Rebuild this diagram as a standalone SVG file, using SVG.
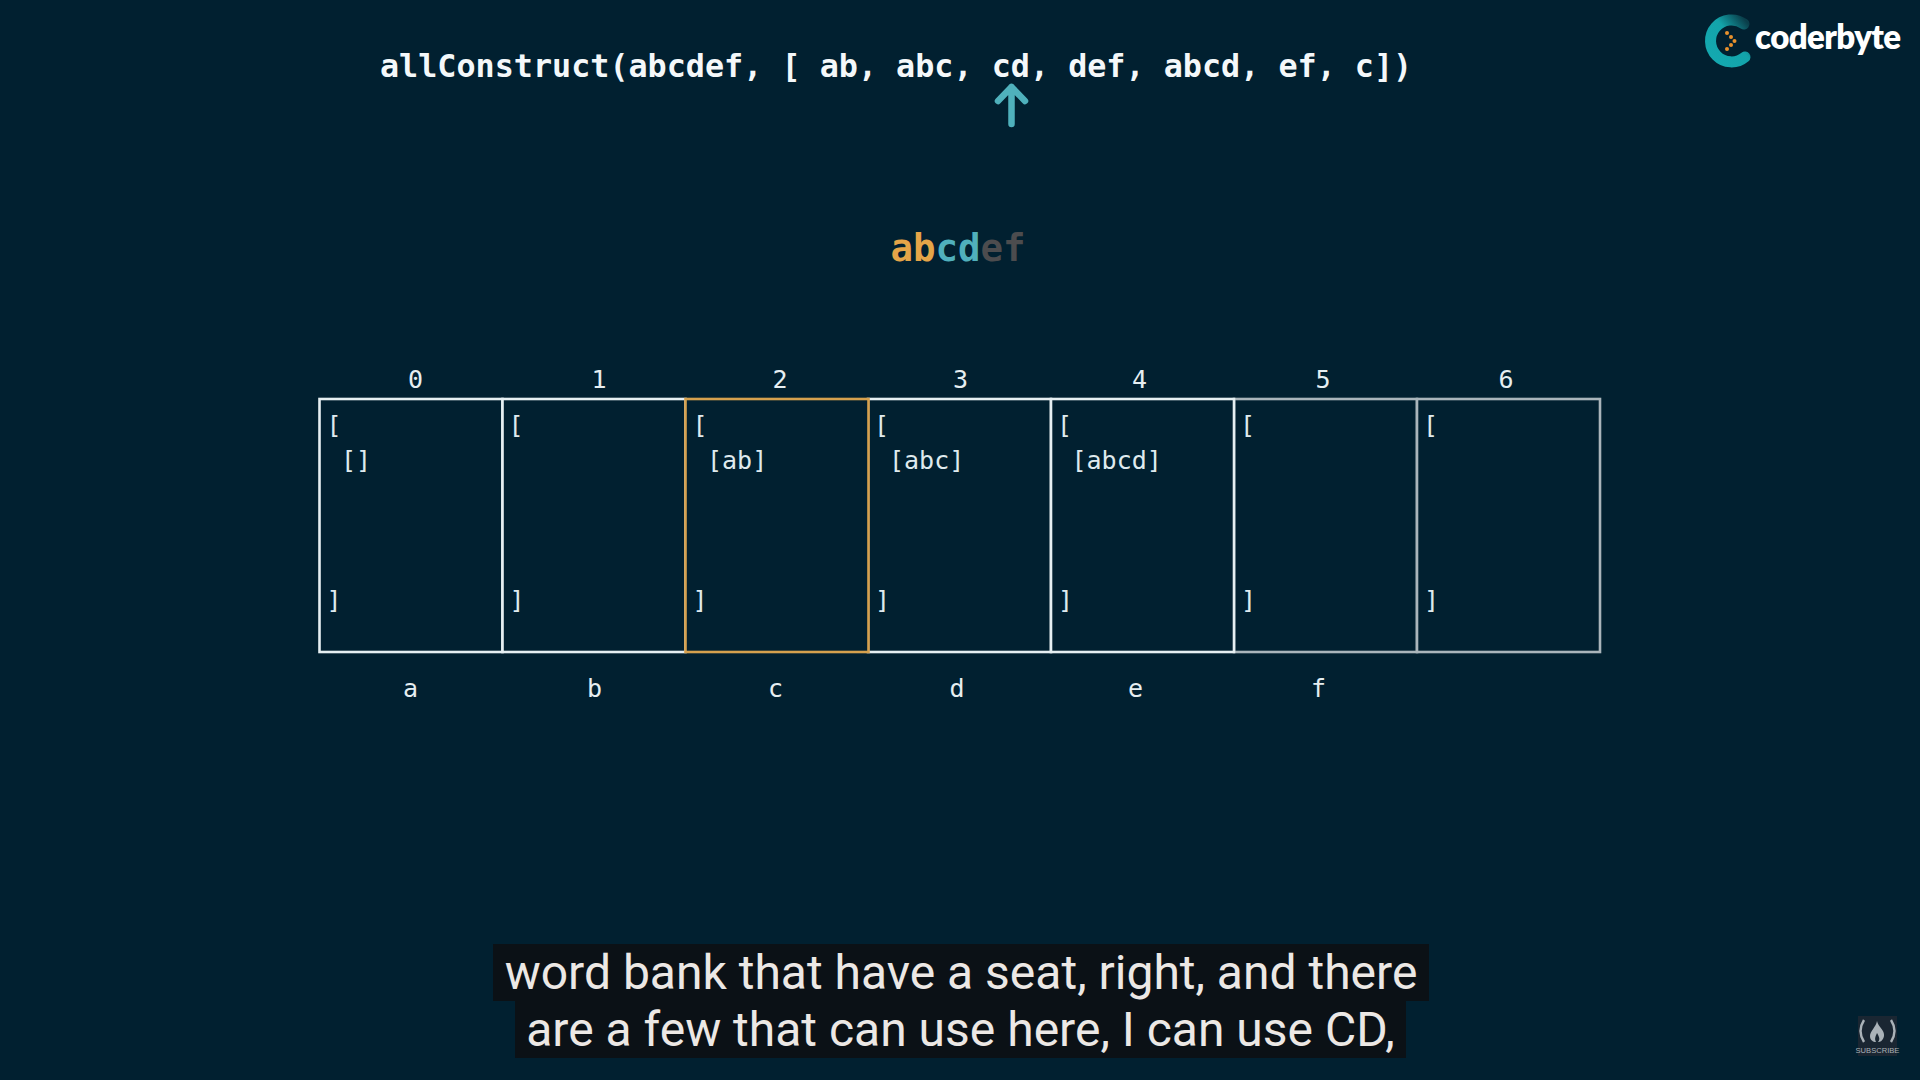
<svg xmlns="http://www.w3.org/2000/svg" width="1920" height="1080" viewBox="0 0 1920 1080">
<style>
.m{font-family:"DejaVu Sans Mono","Liberation Mono",monospace}
.title{font-size:31.75px;font-weight:700;fill:#f4f8fa}
.big{font-size:37.4px;font-weight:700}
.t{font-size:25px;fill:#dfeaee}
.lab{font-size:25px;fill:#e6eef1;text-anchor:middle}
.cell{fill:#012030;stroke-width:2.6}
.w{stroke:#e6eff2}.g{stroke:#aab5bb}.o{stroke:#d6a14e}
.cap{font-family:Roboto,"Liberation Sans",sans-serif;font-size:48px;fill:#ece8e5;text-anchor:middle}
</style>
<defs>
<linearGradient id="ring" x1="0" y1="1" x2="1" y2="0">
<stop offset="0" stop-color="#14a9b0"/><stop offset="0.6" stop-color="#13a3aa"/><stop offset="1" stop-color="#0a3e4a"/>
</linearGradient>
</defs>
<rect width="1920" height="1080" fill="#012030"/>
<text id="title" class="m title" x="380" y="77" xml:space="preserve">allConstruct(abcdef, [ ab, abc, cd, def, abcd, ef, c])</text>
<g id="connectors">
<path d="M1011.5 124V87M998 101L1011.5 87L1025 101" fill="none" stroke="#4fb1bc" stroke-width="6.5" stroke-linecap="round" stroke-linejoin="round"/>
</g>
<text id="target" class="m big" x="890.5" y="260.5"><tspan fill="#e5a548">ab</tspan><tspan fill="#50b0bc">cd</tspan><tspan fill="#4c4c4e">ef</tspan></text>
<g id="cell-5"><rect class="cell g" x="1234" y="399" width="183" height="253"/><text class="m lab" x="1323" y="388">5</text><text class="m t" x="1240" y="433.5">[</text><text class="m t" x="1241" y="609">]</text><text class="m lab" x="1318.5" y="697">f</text></g>
<g id="cell-6"><rect class="cell g" x="1417" y="399" width="183" height="253"/><text class="m lab" x="1506" y="388">6</text><text class="m t" x="1423" y="433.5">[</text><text class="m t" x="1424" y="609">]</text></g>
<g id="cell-0"><rect class="cell w" x="319.5" y="399" width="183" height="253"/><text class="m lab" x="415.5" y="388">0</text><text class="m t" x="326.5" y="433.5">[</text><text class="m t" x="341" y="469">[]</text><text class="m t" x="326.5" y="609">]</text><text class="m lab" x="410.5" y="697">a</text></g>
<g id="cell-1"><rect class="cell w" x="502.5" y="399" width="183" height="253"/><text class="m lab" x="599" y="388">1</text><text class="m t" x="508.5" y="433.5">[</text><text class="m t" x="509.5" y="609">]</text><text class="m lab" x="594.5" y="697">b</text></g>
<g id="cell-3"><rect class="cell w" x="868" y="399" width="183" height="253"/><text class="m lab" x="960.5" y="388">3</text><text class="m t" x="874" y="433.5">[</text><text class="m t" x="889" y="469">[abc]</text><text class="m t" x="875" y="609">]</text><text class="m lab" x="957" y="697">d</text></g>
<g id="cell-4"><rect class="cell w" x="1051" y="399" width="183" height="253"/><text class="m lab" x="1139.5" y="388">4</text><text class="m t" x="1057" y="433.5">[</text><text class="m t" x="1071.5" y="469">[abcd]</text><text class="m t" x="1058" y="609">]</text><text class="m lab" x="1135.5" y="697">e</text></g>
<g id="cell-2"><rect class="cell o" x="685.5" y="399" width="183" height="253"/><text class="m lab" x="780" y="388">2</text><text class="m t" x="692.5" y="433.5">[</text><text class="m t" x="707" y="469">[ab]</text><text class="m t" x="692.5" y="609">]</text><text class="m lab" x="775.5" y="697">c</text></g>
<g id="logo">
<path d="M1744 24A21 21 0 1 0 1745 57" fill="none" stroke="url(#ring)" stroke-width="11" stroke-linecap="round"/>
<g fill="#e8912d"><circle cx="1727" cy="33" r="2"/><circle cx="1731" cy="37" r="2"/><circle cx="1734.5" cy="41" r="2"/><circle cx="1731" cy="45" r="2"/><circle cx="1727" cy="49" r="2"/></g>
<text x="1755" y="49" font-family="Lato,sans-serif" font-weight="800" font-size="33" fill="#fff" textLength="146">coderbyte</text>
</g>
<g id="captions">
<rect x="493" y="944" width="936" height="57" fill="#0b1116"/>
<rect x="515" y="1001" width="891" height="57" fill="#0b1116"/>
<text class="cap" x="961" y="989">word bank that have a seat, right, and there</text>
<text class="cap" x="960.5" y="1046">are a few that can use here, I can use CD,</text>
</g>
<g id="subscribe">
<rect x="1858" y="1016" width="39" height="40" fill="#1a2632"/>
<path d="M1864 1020Q1857 1031 1864 1042M1891 1020Q1898 1031 1891 1042" fill="none" stroke="#aab2b8" stroke-width="2.4"/>
<path d="M1877 1021C1878 1027 1885 1030 1884 1036C1883 1041 1880 1042 1878 1042C1881 1039 1878 1035 1877 1033C1876 1036 1874 1038 1876 1042C1873 1042 1870 1040 1870 1036C1870 1031 1876 1027 1877 1021Z" fill="#aab2b8"/>
<text x="1877.5" y="1053" font-family="'Liberation Sans',sans-serif" font-size="7.6" fill="#aab2b8" text-anchor="middle">SUBSCRIBE</text>
</g>
</svg>
